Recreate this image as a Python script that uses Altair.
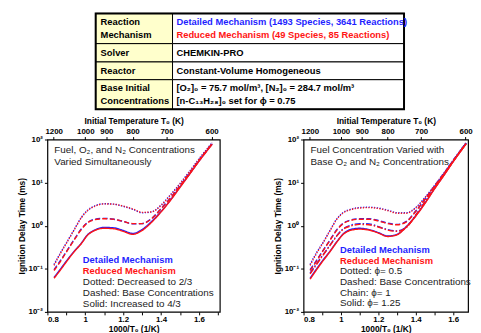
import altair as alt
import pandas as pd

FONT = "Liberation Sans"
BLUE = "#1f1fff"
RED = "#ff1414"
GRAY = "#222222"

# ---------------- data ----------------
x_grid = [0.835, 0.87, 0.9, 0.94, 0.98, 1.01, 1.05, 1.1, 1.15, 1.2, 1.25,
          1.3, 1.35, 1.4, 1.45, 1.5, 1.55, 1.6, 1.67]

# Left panel: Fuel, O2, N2 varied simultaneously (ignition delay, ms)
L_dotted_det = [0.126, 0.240, 0.398, 0.794, 1.58, 2.24, 2.88, 3.24, 3.16, 2.82, 2.40, 2.00, 2.09, 3.02, 5.25, 9.55, 18.2, 35.5, 85.1]
L_dotted_red = [0.120, 0.232, 0.390, 0.780, 1.55, 2.19, 2.82, 3.20, 3.16, 2.85, 2.45, 2.04, 2.09, 2.95, 5.13, 9.33, 17.8, 34.7, 83.2]
L_dashed_det = [0.0955, 0.158, 0.251, 0.468, 0.851, 1.17, 1.41, 1.48, 1.41, 1.26, 1.10, 1.12, 1.48, 2.51, 4.47, 8.51, 16.6, 33.1, 81.3]
L_dashed_red = [0.0912, 0.151, 0.245, 0.457, 0.832, 1.15, 1.38, 1.45, 1.41, 1.26, 1.12, 1.12, 1.45, 2.45, 4.37, 8.32, 16.2, 32.4, 80.0]
L_solid_det = [0.0631, 0.100, 0.151, 0.251, 0.398, 0.603, 0.794, 0.912, 0.891, 0.776, 0.661, 0.813, 1.26, 2.14, 3.98, 7.94, 15.8, 31.6, 79.4]
L_solid_red = [0.0603, 0.0955, 0.145, 0.245, 0.389, 0.589, 0.776, 0.871, 0.851, 0.741, 0.631, 0.776, 1.20, 2.09, 3.89, 7.76, 15.5, 31.3, 77.6]

# Right panel: fuel varied with base O2 and N2
R_dotted_det = [0.126, 0.240, 0.380, 0.759, 1.48, 2.00, 2.40, 2.63, 2.69, 2.57, 2.29, 2.00, 2.00, 2.63, 4.57, 8.51, 16.6, 33.1, 85.1]
R_dotted_red = [0.120, 0.229, 0.372, 0.741, 1.45, 1.95, 2.34, 2.57, 2.63, 2.51, 2.24, 1.95, 1.95, 2.57, 4.47, 8.32, 16.2, 32.4, 83.2]
R_dashed_det = [0.0955, 0.158, 0.251, 0.457, 0.832, 1.12, 1.35, 1.45, 1.45, 1.32, 1.15, 1.07, 1.26, 2.19, 4.17, 8.32, 16.2, 32.4, 83.2]
R_dashed_red = [0.0912, 0.151, 0.245, 0.447, 0.813, 1.10, 1.32, 1.41, 1.41, 1.29, 1.12, 1.05, 1.23, 2.14, 4.07, 8.13, 15.8, 31.6, 81.3]
R_chain_det = [0.0794, 0.132, 0.200, 0.347, 0.603, 0.832, 1.02, 1.12, 1.10, 0.955, 0.813, 0.759, 0.933, 1.78, 3.63, 7.59, 15.5, 31.6, 83.2]
R_chain_red = [0.0759, 0.126, 0.195, 0.339, 0.589, 0.813, 0.977, 1.07, 1.05, 0.933, 0.794, 0.741, 0.912, 1.74, 3.55, 7.41, 15.1, 31.0, 81.3]
R_solid_det = [0.0603, 0.100, 0.151, 0.251, 0.437, 0.631, 0.813, 0.871, 0.813, 0.692, 0.575, 0.631, 0.955, 1.70, 3.39, 7.24, 14.8, 30.9, 81.3]
R_solid_red = [0.0575, 0.0955, 0.145, 0.245, 0.427, 0.617, 0.776, 0.832, 0.794, 0.676, 0.562, 0.617, 0.933, 1.66, 3.31, 7.08, 14.5, 30.2, 79.4]

top_temps = [1200, 1000, 900, 800, 700, 600]
y_ticks = [0.01, 0.1, 1, 10, 100]
x_ticks_left = [0.8, 0.9, 1.0, 1.1, 1.2, 1.3, 1.4, 1.5, 1.6, 1.7]
x_ticks_right = [0.8, 0.9, 1.0, 1.1, 1.2, 1.3, 1.4, 1.5, 1.6]

table_labels = [["Reaction", "Mechanism"], ["Solver"], ["Reactor"], ["Base Initial", "Concentrations"]]
table_values = [
    [("Detailed Mechanism (1493 Species, 3641 Reactions)", BLUE),
     ("Reduced Mechanism (49 Species, 85 Reactions)", RED)],
    [("CHEMKIN-PRO", "black")],
    [("Constant-Volume Homogeneous", "black")],
    [("[O\u2082]\u2080 = 75.7 mol/m\u00b3, [N\u2082]\u2080 = 284.7 mol/m\u00b3", "black"),
     ("[n-C\u2081\u2083H\u2082\u2088]\u2080 set for \u03d5 = 0.75", "black")],
]

# ---------------- layout (pixels) ----------------
row_edges = [2, 32.7, 51.3, 69.3, 99.3]
col_edges = [49, 127, 362]


def long_df(series):
    rows = []
    for (mech, style), vals in series.items():
        for x, t in zip(x_grid, vals):
            rows.append({"x": x, "t": t, "mech": mech, "style": style})
    return pd.DataFrame(rows)


dash_scale = alt.Scale(domain=["dotted", "dashed", "chain", "solid"],
                       range=[[1.2, 1.6], [5, 2.5], [6, 2, 1.5, 2], [1, 0]])


def panel(series, xmax, width, xticks, notes, legend_lines):
    df = long_df(series)
    xs = alt.Scale(domain=[0.8, xmax], nice=False, zero=False)
    ys = alt.Scale(type="log", domain=[0.01, 100], nice=False)
    layers = []
    for i, (mech, col) in enumerate([("Detailed", BLUE), ("Reduced", RED)]):
        sub = df[df.mech == mech]
        if i == 0:
            xenc = alt.X("x:Q", scale=xs, axis=alt.Axis(
                orient="bottom", values=xticks, title="1000/T\u2080 (1/K)",
                labelExpr="abs(datum.value*5 - round(datum.value*5)) < 0.01 ? format(datum.value, '.1~f') : ''",
                labelPadding=1, titlePadding=1))
            yenc = alt.Y("t:Q", scale=ys, axis=alt.Axis(
                values=y_ticks, title="Ignition Delay Time (ms)",
                labelExpr="datum.value >= 50 ? '10\u00b2' : datum.value >= 5 ? '10\u00b9' : datum.value >= 0.5 ? '10\u2070' : datum.value >= 0.05 ? '10\u207b\u00b9' : '10\u207b\u00b2'",
                labelPadding=2, titlePadding=2))
        else:
            xenc = alt.X("x:Q", scale=xs, axis=None)
            yenc = alt.Y("t:Q", scale=ys, axis=None)
        layers.append(
            alt.Chart(sub).mark_line(color=col, strokeWidth=1.4, interpolate="monotone").encode(
                x=xenc, y=yenc,
                strokeDash=alt.StrokeDash("style:N", scale=dash_scale, legend=None),
                detail="style:N",
            )
        )
    tdf = pd.DataFrame({"xt": [1000.0 / T for T in top_temps]})
    layers.append(
        alt.Chart(tdf).mark_point(opacity=0).encode(
            x=alt.X("xt:Q", scale=xs, axis=alt.Axis(
                orient="top", values=list(tdf.xt), title="Initial Temperature T\u2080 (K)",
                labelExpr="format(1000/datum.value, '.0f')", labelPadding=1, titlePadding=2)),
            y=alt.value(0),
        )
    )
    ndf = pd.DataFrame(notes, columns=["text", "px", "py"])
    layers.append(
        alt.Chart(ndf).mark_text(align="left", baseline="middle", font=FONT, fontSize=10,
                                 color=GRAY).encode(
            x=alt.X("px:Q", scale=None), y=alt.Y("py:Q", scale=None), text="text:N")
    )
    ldf = pd.DataFrame(legend_lines, columns=["text", "px", "py", "col", "bold"])
    layers.append(
        alt.Chart(ldf[ldf.bold]).mark_text(align="left", baseline="middle", font=FONT, fontSize=9.5,
                                          fontWeight="bold").encode(
            x=alt.X("px:Q", scale=None), y=alt.Y("py:Q", scale=None), text="text:N",
            color=alt.Color("col:N", scale=None))
    )
    layers.append(
        alt.Chart(ldf[~ldf.bold]).mark_text(align="left", baseline="middle", font=FONT, fontSize=10,
                                           color=GRAY).encode(
            x=alt.X("px:Q", scale=None), y=alt.Y("py:Q", scale=None), text="text:N")
    )
    return alt.layer(*layers).resolve_axis(x="independent", y="independent").properties(
        width=width, height=175,
        view=alt.ViewBackground(stroke="black", strokeWidth=1.2, fill="white"))


left_series = {
    ("Detailed", "dotted"): L_dotted_det, ("Detailed", "dashed"): L_dashed_det,
    ("Detailed", "solid"): L_solid_det,
    ("Reduced", "dotted"): L_dotted_red, ("Reduced", "dashed"): L_dashed_red,
    ("Reduced", "solid"): L_solid_red,
}
right_series = {
    ("Detailed", "dotted"): R_dotted_det, ("Detailed", "dashed"): R_dashed_det,
    ("Detailed", "chain"): R_chain_det, ("Detailed", "solid"): R_solid_det,
    ("Reduced", "dotted"): R_dotted_red, ("Reduced", "dashed"): R_dashed_red,
    ("Reduced", "chain"): R_chain_red, ("Reduced", "solid"): R_solid_red,
}

left_notes = [("Fuel, O\u2082, and N\u2082 Concentrations", 7, 10.5),
              ("Varied Simultaneously", 7, 22.5)]
left_legend = [("Detailed Mechanism", 36, 122, BLUE, True),
               ("Reduced Mechanism", 36, 133.3, RED, True),
               ("Dotted: Decreased to 2/3", 36, 144.3, GRAY, False),
               ("Dashed: Base Concentrations", 36, 155.6, GRAY, False),
               ("Solid: Increased to 4/3", 36, 167, GRAY, False)]
right_notes = [("Fuel Concentration Varied with", 7, 10.5),
               ("Base O\u2082 and N\u2082 Concentrations", 7, 22.5)]
right_legend = [("Detailed Mechanism", 37, 112, BLUE, True),
                ("Reduced Mechanism", 37, 123, RED, True),
                ("Dotted: \u03d5= 0.5", 37, 133.5, GRAY, False),
                ("Dashed: Base Concentrations", 37, 144.3, GRAY, False),
                ("Chain: \u03d5= 1", 37, 155.5, GRAY, False),
                ("Solid: \u03d5= 1.25", 37, 166.3, GRAY, False)]

left = panel(left_series, 1.71, 175, x_ticks_left, left_notes, left_legend)
right = panel(right_series, 1.68, 167, x_ticks_right, right_notes, right_legend)

# ---------------- table ----------------
cells = []
for r in range(4):
    cells.append({"x": col_edges[0], "x2": col_edges[1], "y": row_edges[r], "y2": row_edges[r + 1], "fill": "#ffffcc"})
    cells.append({"x": col_edges[1], "x2": col_edges[2], "y": row_edges[r], "y2": row_edges[r + 1], "fill": "white"})
cell_df = pd.DataFrame(cells)
outer_df = pd.DataFrame([{"x": col_edges[0], "x2": col_edges[2], "y": row_edges[0], "y2": row_edges[-1]}])

texts = []
for r in range(4):
    top, bot = row_edges[r], row_edges[r + 1]
    n = len(table_labels[r])
    mid = (top + bot) / 2
    for k, lab in enumerate(table_labels[r]):
        texts.append({"text": lab, "tx": col_edges[0] + 5, "ty": mid + (k - (n - 1) / 2) * 12.5, "col": "black"})
    n2 = len(table_values[r])
    for k, (val, c) in enumerate(table_values[r]):
        texts.append({"text": val, "tx": col_edges[1] + 4, "ty": mid + (k - (n2 - 1) / 2) * 12.5, "col": c})
text_df = pd.DataFrame(texts)

cell_layer = alt.Chart(cell_df).mark_rect(stroke="black", strokeWidth=1).encode(
    x=alt.X("x:Q", scale=None), x2="x2:Q", y=alt.Y("y:Q", scale=None), y2="y2:Q",
    fill=alt.Fill("fill:N", scale=None))
outer_layer = alt.Chart(outer_df).mark_rect(fillOpacity=0, stroke="black", strokeWidth=2).encode(
    x=alt.X("x:Q", scale=None), x2="x2:Q", y=alt.Y("y:Q", scale=None), y2="y2:Q")
text_layer = alt.Chart(text_df).mark_text(align="left", baseline="middle", font=FONT, fontSize=9.5,
                                          fontWeight="bold").encode(
    x=alt.X("tx:Q", scale=None), y=alt.Y("ty:Q", scale=None), text="text:N",
    color=alt.Color("col:N", scale=None))
table = alt.layer(cell_layer, outer_layer, text_layer).properties(
    width=365, height=100, view=alt.ViewBackground(stroke="transparent"))

chart = alt.vconcat(
    table,
    alt.hconcat(left, right, spacing=85, bounds="flush"),
    spacing=30, bounds="flush",
).properties(
    padding={"left": 8, "top": 0, "right": 0, "bottom": 0},
    background="white",
).configure_axis(
    labelFont=FONT, titleFont=FONT, labelFontWeight="bold", titleFontWeight="bold",
    labelFontSize=8, titleFontSize=8.5, labelColor="black", titleColor="black",
    grid=False, domain=False, tickColor="black", tickSize=3, tickWidth=1,
)

chart.save("out.html", embed_options={"renderer": "svg", "actions": False})
